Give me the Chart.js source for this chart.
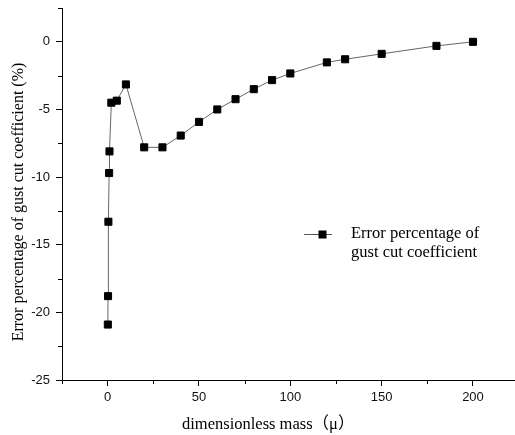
<!DOCTYPE html>
<html><head><meta charset="utf-8">
<style>html,body{margin:0;padding:0;background:#fff}#wrap{width:515px;height:435px}</style>
<script src="https://cdn.jsdelivr.net/npm/chart.js@4.4.1/dist/chart.umd.min.js"></script>
</head><body><div id="wrap"><canvas id="c" width="515" height="435"></canvas></div>
<script>
const massValues = [0.1, 0.2, 0.4, 0.8, 1, 2, 5, 10, 20, 30, 40, 50, 60, 70, 80, 90, 100, 120, 130, 150, 180, 200];
const errorValues = [-20.9, -18.8, -13.3, -9.7, -8.1, -4.5, -4.35, -3.15, -7.8, -7.8, -6.93, -5.92, -5.0, -4.24, -3.5, -2.83, -2.34, -1.52, -1.29, -0.89, -0.3, 0.0];
const xMajorStep = 50;
const yMajorStep = 5;
const seriesLabel = ['Error percentage of', 'gust cut coefficient'];
const xTitle = 'dimensionless mass（μ）';
const yTitle = 'Error percentage of gust cut coefficient (%)';

const points = massValues.map((m, i) => ({x: m, y: errorValues[i]}));
const SERIF = "'Liberation Serif', 'Times New Roman', 'Noto Sans CJK SC', serif";
const SANS = "'Liberation Sans', Arial, sans-serif";

function isMajor(v, step) { return Math.abs(v / step - Math.round(v / step)) < 1e-6; }

const extras = {
  id: 'extras',
  afterDraw(chart) {
    const ctx = chart.ctx;
    const xs = chart.scales.x, ys = chart.scales.y;
    const area = chart.chartArea;
    ctx.save();
    // minor ticks
    ctx.strokeStyle = '#000';
    ctx.lineWidth = 1;
    ctx.beginPath();
    xs.ticks.forEach(t => {
      if (!isMajor(t.value, xMajorStep)) {
        const px = Math.round(xs.getPixelForValue(t.value)) + 0.5;
        ctx.moveTo(px, area.bottom);
        ctx.lineTo(px, area.bottom + 4);
      }
    });
    ys.ticks.forEach(t => {
      if (!isMajor(t.value, yMajorStep)) {
        const py = Math.round(ys.getPixelForValue(t.value)) + 0.5;
        ctx.moveTo(area.left, py);
        ctx.lineTo(area.left - 4, py);
      }
    });
    ctx.stroke();

    ctx.fillStyle = '#000';
    // y title
    ctx.save();
    ctx.translate(23, 202);
    ctx.rotate(-Math.PI / 2);
    ctx.font = '16px ' + SERIF;
    ctx.textAlign = 'center';
    ctx.textBaseline = 'alphabetic';
    ctx.fillText(yTitle, 0, 0);
    ctx.restore();
    // x title
    ctx.font = '16.5px ' + SERIF;
    ctx.textAlign = 'left';
    ctx.textBaseline = 'alphabetic';
    ctx.fillText(xTitle, 182, 429);

    // legend
    const ly = 234;
    ctx.strokeStyle = '#555';
    ctx.beginPath();
    ctx.moveTo(304, ly + 0.5);
    ctx.lineTo(332, ly + 0.5);
    ctx.stroke();
    ctx.fillStyle = '#000';
    ctx.fillRect(318.5, ly - 3.5, 8, 8);
    ctx.font = '16.5px ' + SERIF;
    ctx.fillText(seriesLabel[0], 351, 238);
    ctx.fillText(seriesLabel[1], 351, 257);
    ctx.restore();
  }
};

new Chart(document.getElementById('c'), {
  type: 'scatter',
  data: {
    datasets: [{
      label: seriesLabel.join(' '),
      data: points,
      showLine: true,
      borderColor: '#666',
      borderWidth: 1,
      pointStyle: 'rect',
      pointRadius: 5,
      pointBackgroundColor: '#000',
      pointBorderColor: '#000',
      pointBorderWidth: 1,
      tension: 0
    }]
  },
  options: {
    responsive: false,
    devicePixelRatio: 1,
    animation: false,
    layout: {autoPadding: false, padding: {top: 8, right: 0, bottom: 0, left: 0}},
    plugins: {legend: {display: false}, tooltip: {enabled: false}},
    scales: {
      x: {
        type: 'linear', min: -25, max: 223,
        afterFit: s => { s.height = 55; s.paddingLeft = 0; s.paddingRight = 0; },
        border: {color: '#000', width: 1},
        grid: {
          drawOnChartArea: false, drawTicks: true, tickLength: 6,
          tickColor: c => (c.tick && isMajor(c.tick.value, xMajorStep)) ? '#000' : 'rgba(0,0,0,0)'
        },
        ticks: {
          stepSize: 25, includeBounds: false, autoSkip: false, maxRotation: 0, padding: 4,
          color: '#111', font: {family: SANS, size: 13},
          callback: v => isMajor(v, xMajorStep) ? String(v) : ''
        }
      },
      y: {
        type: 'linear', min: -25, max: 2.5,
        afterFit: s => { s.width = 62; s.paddingTop = 0; s.paddingBottom = 0; },
        border: {color: '#000', width: 1},
        grid: {
          drawOnChartArea: false, drawTicks: true, tickLength: 6,
          tickColor: c => (c.tick && isMajor(c.tick.value, yMajorStep)) ? '#000' : 'rgba(0,0,0,0)'
        },
        ticks: {
          stepSize: 2.5, autoSkip: false, padding: 6,
          color: '#111', font: {family: SANS, size: 13},
          callback: v => isMajor(v, yMajorStep) ? String(v) : ''
        }
      }
    }
  },
  plugins: [extras]
});
</script></body></html>
